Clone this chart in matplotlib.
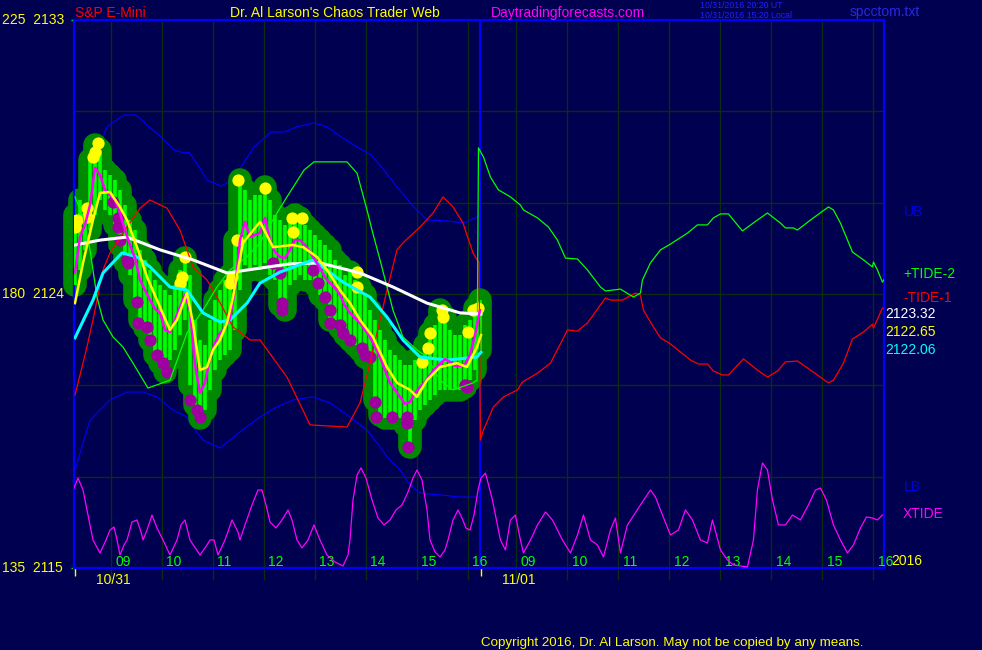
import numpy as np
import matplotlib.pyplot as plt

plt.rcParams['font.family'] = ['Liberation Sans', 'DejaVu Sans']

BG = '#000050'
GRID = '#0c2c10'
BLUE = '#0000ff'
HALO = '#008a00'

# second session is drawn right after the first one
day2_shift = 7.95
open_hour = 8.3

# 10/31 bars (about 6 min apart)
close = [2124.69, 2125.87, 2126.27, 2126.92, 2128.14, 2127.91, 2127.42, 2127.25, 2127.09, 2126.66,
         2126.10, 2125.61, 2125.18, 2124.46, 2124.13, 2123.80, 2123.51, 2123.38, 2122.82, 2122.75,
         2123.15, 2123.57, 2123.97, 2123.47, 2121.67, 2120.75, 2121.08, 2121.90, 2122.39, 2122.72,
         2122.88, 2123.21, 2124.13, 2125.77, 2126.37, 2125.87, 2125.94, 2126.00, 2126.50, 2125.77,
         2125.38, 2125.22, 2125.18, 2125.45, 2125.77, 2125.77, 2125.61, 2125.38, 2125.12, 2124.85,
         2124.56, 2124.36, 2124.20, 2123.97, 2123.61, 2123.38, 2123.21, 2123.05, 2122.82, 2122.59,
         2122.26, 2121.93, 2121.50, 2121.08, 2120.85, 2120.62, 2120.39, 2120.45, 2120.75, 2120.95,
         2121.11, 2121.34, 2121.54, 2121.70, 2121.86, 2121.77, 2121.64, 2121.64, 2121.70, 2122.00,
         2122.65, 2123.47]
high = [2126.59, 2127.09, 2126.92, 2128.40, 2128.89, 2128.73, 2128.07, 2127.91, 2127.74, 2127.42,
        2126.92, 2126.43, 2126.10, 2125.45, 2125.12, 2124.79, 2124.46, 2124.30, 2124.13, 2123.97,
        2124.30, 2124.79, 2125.18, 2124.62, 2123.15, 2122.49, 2122.32, 2123.15, 2123.80, 2124.13,
        2124.46, 2124.62, 2125.77, 2127.74, 2127.42, 2127.09, 2127.25, 2127.25, 2127.51, 2127.09,
        2126.59, 2126.43, 2126.27, 2126.50, 2126.59, 2126.50, 2126.27, 2126.10, 2125.94, 2125.77,
        2125.61, 2125.45, 2125.12, 2124.95, 2124.62, 2124.72, 2124.46, 2124.23, 2123.97, 2123.47,
        2123.15, 2122.82, 2122.49, 2122.16, 2122.00, 2121.83, 2121.67, 2121.67, 2121.83, 2122.00,
        2122.32, 2122.72, 2122.98, 2123.47, 2123.24, 2122.82, 2122.65, 2122.65, 2122.98, 2123.15,
        2123.54, 2123.80]
low = [2124.30, 2124.79, 2125.45, 2126.10, 2126.59, 2127.09, 2126.76, 2126.59, 2126.27, 2125.61,
       2125.05, 2124.62, 2123.80, 2123.15, 2122.88, 2122.49, 2122.00, 2121.73, 2121.44, 2121.83,
       2122.16, 2122.65, 2123.15, 2121.01, 2120.35, 2119.93, 2120.19, 2120.85, 2121.50, 2121.83,
       2122.00, 2122.16, 2122.82, 2124.13, 2124.95, 2124.79, 2124.95, 2124.79, 2125.02, 2124.62,
       2124.46, 2123.64, 2123.47, 2124.30, 2124.46, 2124.62, 2124.46, 2124.46, 2124.30, 2123.97,
       2123.80, 2123.15, 2123.15, 2122.88, 2122.65, 2122.49, 2122.32, 2122.16, 2121.93, 2121.83,
       2120.52, 2120.03, 2119.93, 2119.93, 2119.93, 2119.93, 2119.70, 2118.97, 2119.86, 2120.19,
       2120.35, 2120.52, 2120.68, 2120.85, 2120.85, 2120.85, 2120.85, 2120.85, 2120.95, 2121.17,
       2121.50, 2122.16]
bar_t = np.linspace(8.294, 16.235, len(close))

# yellow = swing highs, purple = swing lows
yel_t = [8.745, 8.686, 8.647, 8.529, 8.529, 8.333, 8.294, 10.451, 10.392, 10.353, 11.490, 11.471, 11.373, 11.333,
         12.020, 12.549, 12.745, 12.569, 13.824, 13.824, 15.098, 15.216, 15.255, 15.490, 15.510, 16.000, 16.098, 16.196]
yel_p = [2128.96, 2128.66, 2128.50, 2126.82, 2126.53, 2126.43, 2126.20, 2125.22, 2124.56, 2124.36, 2127.74, 2125.77,
         2124.56, 2124.36, 2127.48, 2126.50, 2126.50, 2126.04, 2124.72, 2124.23, 2121.77, 2122.23, 2122.72, 2123.47,
         2123.24, 2122.75, 2123.47, 2123.54]
pur_t = [9.039, 9.137, 9.137, 9.176, 9.314, 9.333, 9.510, 9.529, 9.706, 9.765, 9.902, 10.020, 10.098, 10.549, 10.686,
         10.745, 12.176, 12.314, 12.353, 12.353, 12.961, 13.059, 13.196, 13.294, 13.294, 13.490, 13.549, 13.686, 13.922,
         13.980, 14.078, 14.176, 14.196, 14.510, 14.804, 14.804, 14.824, 15.941, 15.980]
pur_p = [2127.02, 2126.50, 2126.20, 2125.77, 2125.12, 2125.02, 2123.74, 2123.05, 2122.92, 2122.49, 2122.00, 2121.73,
         2121.44, 2120.52, 2120.19, 2119.96, 2125.02, 2124.69, 2123.70, 2123.47, 2124.79, 2124.36, 2123.90, 2123.47,
         2123.05, 2122.98, 2122.72, 2122.49, 2122.23, 2122.00, 2121.93, 2120.45, 2119.96, 2119.96, 2119.96, 2119.76,
         2118.97, 2121.01, 2120.95]

# averages
yma_t = [8.294, 8.451, 8.647, 8.784, 8.980, 9.176, 9.314, 9.510, 9.706, 9.961, 10.157, 10.294, 10.490, 10.608, 10.745,
         10.882, 11.000, 11.137, 11.275, 11.392, 11.588, 11.922, 12.176, 12.569, 12.765, 13.039, 13.235, 13.490, 13.686,
         13.882, 14.137, 14.412, 14.608, 14.863, 15.000, 15.196, 15.451, 15.784, 15.980, 16.176, 16.255]
yma_p = [2123.70, 2125.02, 2126.43, 2127.32, 2127.35, 2126.86, 2126.43, 2125.54, 2124.56, 2123.57, 2122.82, 2123.15,
         2124.03, 2123.05, 2121.50, 2121.60, 2122.16, 2122.49, 2123.05, 2123.90, 2125.68, 2126.37, 2125.54, 2125.61,
         2125.54, 2125.22, 2124.79, 2124.13, 2123.70, 2123.15, 2122.59, 2121.60, 2121.08, 2120.85, 2120.62, 2121.17,
         2121.60, 2121.73, 2121.60, 2122.26, 2122.65]
cma_t = [8.294, 8.647, 8.843, 9.216, 9.510, 9.765, 10.157, 10.490, 10.804, 11.137, 11.333, 11.667, 11.922, 12.314,
         12.961, 13.549, 14.078, 14.412, 14.725, 15.059, 15.588, 16.176, 16.255]
cma_p = [2122.56, 2123.80, 2124.69, 2125.35, 2125.22, 2124.89, 2124.23, 2124.13, 2123.38, 2123.08, 2123.15, 2123.70,
         2124.36, 2124.72, 2125.12, 2124.39, 2123.90, 2123.24, 2122.49, 2121.93, 2121.83, 2121.93, 2122.09]
wma_t = [8.294, 8.784, 9.314, 9.961, 10.608, 11.275, 11.922, 12.510, 13.098, 13.882, 14.529, 15.196, 15.843, 16.255]
wma_p = [2125.61, 2125.77, 2125.87, 2125.45, 2125.12, 2124.69, 2124.85, 2124.99, 2125.02, 2124.69, 2124.23, 2123.70,
         2123.38, 2123.34]

# bands
ub_t = [8.314, 8.647, 8.922, 9.255, 9.490, 9.706, 9.980, 10.235, 10.431, 10.529, 10.765, 10.882, 11.157, 11.275,
        11.549, 11.804, 12.137, 12.392, 12.647, 12.980, 13.235, 13.510, 13.824, 14.098, 14.353, 14.608, 14.941,
        15.196, 15.588, 15.922, 16.176, 16.255]
ub_p = [2126.92, 2128.30, 2129.49, 2129.88, 2129.88, 2129.55, 2129.16, 2128.73, 2128.63, 2128.66, 2128.07, 2127.74,
        2127.55, 2127.65, 2128.17, 2128.83, 2129.32, 2129.32, 2129.49, 2129.62, 2129.49, 2129.16, 2128.83, 2128.57,
        2128.07, 2127.51, 2126.86, 2126.43, 2126.40, 2126.33, 2126.53, 2126.66]
lb_t = [8.294, 8.588, 8.980, 9.314, 9.627, 9.902, 10.216, 10.490, 10.608, 10.804, 11.137, 11.529, 11.922, 12.255,
        12.569, 12.961, 13.294, 13.686, 14.020, 14.216, 14.431, 14.667, 14.863, 15.059, 15.451, 15.843, 16.196]
lb_p = [2118.22, 2119.86, 2120.52, 2120.78, 2120.78, 2120.62, 2120.19, 2119.96, 2119.63, 2119.20, 2118.94, 2119.47,
        2119.96, 2120.29, 2120.52, 2120.62, 2120.42, 2119.96, 2119.53, 2119.11, 2118.61, 2118.22, 2117.73, 2117.46,
        2117.40, 2117.33, 2117.33]

# tides, day 1 and forecast day 2 (hours of each day)
tide1_t1 = [8.294, 8.529, 8.647, 8.843, 8.980, 9.314, 9.569, 9.765, 10.098, 10.353, 10.608, 10.882, 11.078, 11.392,
            11.725, 11.922, 12.451, 12.902, 13.627, 13.882, 14.078, 14.412, 14.608, 14.725, 15.059, 15.314, 15.510,
            15.706, 15.902, 16.098, 16.176, 16.216]
tide1_p1 = [2120.68, 2122.26, 2123.15, 2124.79, 2125.35, 2126.20, 2126.82, 2127.09, 2126.82, 2126.10, 2124.89, 2124.46,
            2123.90, 2122.92, 2122.49, 2122.49, 2121.27, 2119.70, 2119.63, 2120.42, 2121.73, 2124.13, 2125.45, 2125.68,
            2126.20, 2126.66, 2127.19, 2126.86, 2126.33, 2125.35, 2125.12, 2125.05]
tide1_t2 = [8.294, 8.353, 8.549, 8.745, 9.020, 9.118, 9.412, 9.667, 9.902, 10.000, 10.196, 10.392, 10.549, 10.745,
            10.843, 11.078, 11.333, 11.431, 11.490, 11.686, 11.824, 12.020, 12.412, 12.569, 12.745, 12.863, 13.039,
            13.157, 13.451, 13.725, 13.922, 14.118, 14.275, 14.510, 14.765, 15.118, 15.216, 15.412, 15.588, 15.804,
            15.980, 16.000, 16.176, 16.216]
tide1_p2 = [2119.20, 2119.53, 2120.29, 2120.62, 2120.85, 2121.11, 2121.40, 2121.73, 2122.49, 2122.82, 2122.78, 2123.05,
            2123.41, 2123.87, 2123.80, 2123.80, 2124.03, 2123.97, 2123.47, 2122.92, 2122.56, 2122.36, 2121.83, 2121.70,
            2121.70, 2121.47, 2121.34, 2121.34, 2121.87, 2121.50, 2121.27, 2121.47, 2121.77, 2121.80, 2121.50, 2121.08,
            2121.17, 2121.73, 2122.52, 2122.75, 2123.01, 2122.88, 2123.54, 2123.54]
tide2_t1 = [8.294, 8.451, 8.588, 8.725, 8.843, 9.039, 9.235, 9.431, 9.725, 10.157, 10.490, 10.804, 11.078, 11.333,
            11.667, 11.922, 12.196, 12.451, 12.784, 12.980, 13.627, 13.824, 14.020, 14.118, 14.275, 14.529, 14.725,
            15.000, 15.196, 15.451, 15.706, 16.098, 16.176]
tide2_p1 = [2127.19, 2126.53, 2125.45, 2123.90, 2123.15, 2122.59, 2122.26, 2121.73, 2120.91, 2121.17, 2122.72, 2123.47,
            2124.23, 2124.79, 2125.22, 2125.68, 2126.50, 2127.19, 2128.07, 2128.34, 2128.34, 2127.97, 2126.76, 2126.10,
            2125.12, 2123.47, 2122.59, 2122.16, 2121.93, 2121.17, 2120.85, 2121.08, 2121.17]
tide2_t2 = [8.255, 8.353, 8.490, 8.647, 8.882, 9.078, 9.137, 9.412, 9.627, 9.804, 9.961, 10.196, 10.392, 10.647,
            10.745, 11.039, 11.294, 11.431, 11.471, 11.627, 11.824, 12.020, 12.353, 12.549, 12.745, 12.863, 13.000,
            13.157, 13.431, 13.725, 13.922, 14.176, 14.275, 14.431, 14.510, 14.765, 15.118, 15.216, 15.353, 15.588,
            15.804, 15.980, 16.000, 16.078, 16.176, 16.216]
tide2_p2 = [2128.80, 2128.50, 2127.84, 2127.42, 2127.19, 2126.92, 2126.76, 2126.50, 2126.20, 2125.77, 2125.18, 2125.15,
            2124.79, 2124.23, 2124.10, 2124.16, 2123.90, 2124.03, 2124.46, 2125.02, 2125.45, 2125.64, 2126.00, 2126.27,
            2126.27, 2126.50, 2126.63, 2126.63, 2126.07, 2126.43, 2126.66, 2126.33, 2126.17, 2126.17, 2126.10, 2126.43,
            2126.86, 2126.76, 2126.33, 2125.38, 2125.12, 2124.89, 2125.05, 2124.79, 2124.39, 2124.49]

# XTIDE on the 135..225 scale
xt_t1 = [8.275, 8.353, 8.451, 8.549, 8.647, 8.784, 8.902, 8.980, 9.059, 9.118, 9.176, 9.255, 9.314, 9.412, 9.510,
         9.588, 9.627, 9.706, 9.804, 9.902, 10.020, 10.157, 10.294, 10.373, 10.451, 10.549, 10.745, 10.882, 10.941,
         11.020, 11.098, 11.235, 11.373, 11.490, 11.529, 11.627, 11.765, 11.882, 11.961, 12.039, 12.118, 12.235,
         12.353, 12.471, 12.549, 12.647, 12.745, 12.863, 12.980, 13.098, 13.235, 13.392, 13.549, 13.647, 13.686,
         13.745, 13.824, 13.902, 14.000, 14.118, 14.235, 14.353, 14.471, 14.588, 14.706, 14.824, 14.922, 15.000,
         15.098, 15.196, 15.255, 15.353, 15.451, 15.549, 15.608, 15.706, 15.804, 15.882, 15.961, 16.039, 16.118,
         16.196, 16.255]
xt_v1 = [148.14, 149.78, 147.81, 143.70, 139.60, 137.46, 139.60, 141.24, 141.74, 139.60, 137.14, 138.78, 139.60,
         142.56, 142.89, 140.91, 139.60, 141.24, 143.70, 141.57, 139.60, 137.14, 139.60, 142.07, 142.89, 139.60,
         137.14, 138.78, 139.60, 139.60, 137.14, 139.60, 142.89, 140.91, 139.60, 142.07, 145.35, 147.81, 147.81,
         145.35, 142.56, 141.57, 142.89, 144.53, 142.89, 139.60, 138.29, 139.60, 142.07, 139.60, 137.14, 135.99,
         135.33, 137.14, 139.60, 146.17, 150.27, 151.43, 149.78, 146.17, 143.21, 142.07, 142.89, 144.53, 145.35,
         147.48, 149.78, 151.10, 149.45, 144.53, 139.60, 137.63, 136.81, 137.96, 139.60, 142.89, 144.53, 143.21,
         141.57, 141.24, 143.70, 147.81, 149.78]
xt_t2 = [8.392, 8.529, 8.686, 8.784, 8.882, 8.980, 9.078, 9.137, 9.275, 9.412, 9.569, 9.706, 9.902, 10.059, 10.196,
         10.314, 10.451, 10.588, 10.706, 10.843, 10.941, 11.039, 11.176, 11.431, 11.627, 11.725, 11.863, 12.020,
         12.176, 12.314, 12.451, 12.608, 12.745, 12.843, 13.000, 13.137, 13.255, 13.529, 13.647, 13.725, 13.824,
         13.922, 14.020, 14.137, 14.275, 14.412, 14.569, 14.725, 14.863, 14.961, 15.078, 15.216, 15.353, 15.490,
         15.608, 15.745, 15.863, 15.980, 16.078, 16.176]
xt_v2 = [150.60, 146.17, 139.60, 137.96, 142.89, 143.70, 139.60, 137.46, 139.60, 142.07, 144.20, 142.89, 139.60,
         137.46, 140.42, 143.70, 139.60, 138.78, 136.81, 141.24, 143.21, 137.46, 142.07, 145.35, 147.81, 146.66,
         143.70, 140.42, 141.24, 144.53, 142.89, 139.60, 139.11, 142.89, 137.96, 136.32, 135.50, 135.17, 139.60,
         147.81, 152.25, 151.10, 146.17, 142.07, 142.07, 143.70, 142.89, 145.35, 147.81, 148.14, 146.17, 142.07,
         139.60, 137.46, 138.78, 141.57, 143.38, 143.21, 142.89, 143.70]

hours = list(range(9, 17))
last_vals = [('2123.32', 'white'), ('2122.65', '#ffff00'), ('2122.06', '#00ffff')]


def join(t1, p1, t2, p2):
    return np.concatenate([t1, np.array(t2) + day2_shift]), np.concatenate([p1, p2])


fig = plt.figure(figsize=(9.82, 6.5), dpi=100, facecolor=BG)
ax = fig.add_axes([74 / 982, 82 / 650, 810 / 982, 548 / 650])
ax.set_facecolor(BG)
x0 = 8.2745
x1 = 24.157
ax.set_xlim(x0, x1)
ax.set_ylim(2115, 2133)

grid_x = hours + [h + day2_shift for h in hours]
ax.vlines(grid_x, -0.022, 1, transform=ax.get_xaxis_transform(), colors=GRID, lw=1, clip_on=False, zorder=0)
ax.hlines([2118, 2121, 2124, 2127, 2130], x0, x1, colors=GRID, lw=1, zorder=0)

for s in ax.spines.values():
    s.set_color(BLUE)
    s.set_linewidth(1.6)
ax.axvline(open_hour + day2_shift - 0.005, color=BLUE, lw=1.5, zorder=1)

ax.set_yticks([2115, 2124, 2133])
ax.tick_params(axis='y', colors='#00ff00', length=2.5, width=1, labelleft=False)
ax.set_xticks([open_hour, open_hour + day2_shift])
ax.tick_params(axis='x', colors='#ffff00', length=6, width=1, labelbottom=False)

# bands
ax.plot(ub_t, ub_p, color=BLUE, lw=0.8, zorder=1.5)
ax.plot(lb_t, lb_p, color=BLUE, lw=0.8, zorder=1.5)

# bars with glow
for t, h, l in zip(bar_t, high, low):
    ax.plot([t, t], [l, h], color=HALO, lw=17, solid_capstyle='round', zorder=2, clip_on=False)
ax.vlines(bar_t, low, high, colors='#00ff00', lw=2.6, zorder=3)

ax.plot(yel_t, yel_p, 'o', color='#ffff00', ms=8.8, mec='none', zorder=3.5)
ax.plot(pur_t, pur_p, 'o', color='#a000a0', ms=8.8, mec='none', zorder=3.5)

tx, tp = join(tide1_t1, tide1_p1, tide1_t2, tide1_p2)
ax.plot(tx, tp, color='#ff0000', lw=0.9, zorder=3.8)
tx, tp = join(tide2_t1, tide2_p1, tide2_t2, tide2_p2)
ax.plot(tx, tp, color='#00ff00', lw=0.9, zorder=3.8)

ax.plot(wma_t, wma_p, color='white', lw=2.2, zorder=4)
ax.plot(cma_t, cma_p, color='#00ffff', lw=2.2, zorder=4.1)
ax.plot(bar_t, close, color='#ff00ff', lw=1.8, zorder=5)
ax.plot(yma_t, yma_p, color='#ffff00', lw=1.8, zorder=5.1)

ax2 = ax.twinx()
ax2.set_ylim(135, 225)
ax2.axis('off')
xx, xv = join(xt_t1, xt_v1, xt_t2, xt_v2)
ax2.plot(xx, xv, color='#ff00ff', lw=0.9)

# hour labels
for h in hours:
    for d in [0, day2_shift]:
        ax.text(h + d + 0.08, 2115.08, '%02d' % h, color='#00ff00', fontsize=10, ha='left', va='baseline', zorder=6)

ylab = ax.get_yaxis_transform()
for a, b in [('225', 2133), ('180', 2124), ('135', 2115)]:
    ax.text(-0.0889, b, a + '  ' + str(b), transform=ylab, color='#ffff00', fontsize=10, ha='left', va='center')

ax.text(open_hour + 0.41, -0.021, '10/31', transform=ax.get_xaxis_transform(), color='#ffff00', fontsize=10,
        ha='left', va='center')
ax.text(open_hour + day2_shift + 0.41, -0.021, '11/01', transform=ax.get_xaxis_transform(), color='#ffff00',
        fontsize=10, ha='left', va='center')


def ftext(x, y, s, c, size=10, **kw):
    fig.text(x / 982, 1 - y / 650, s, color=c, fontsize=size, ha='left', va='center', **kw)


ftext(75, 13, 'S&P E-Mini', '#ff0000')
ftext(230, 13, "Dr. Al Larson's Chaos Trader Web", '#ffff00')
ftext(491, 13, 'Daytradingforecasts.com', '#ff00ff')
ftext(700, 6, '10/31/2016 20:20 UT', '#2020ff', 6.3)
ftext(700, 15.5, '10/31/2016 15:20 Local', '#2020ff', 6.3)
ftext(850, 12, 'spcctom.txt', '#2828e0')

ftext(904, 212, 'UB', '#0000dd')
ftext(903, 274, '+TIDE-2', '#00ff00')
ftext(903, 298, '-TIDE-1', '#ff0000')
for i, (s, c) in enumerate(last_vals):
    ftext(885, 314 + i * 18, s, c)
ftext(904, 487, 'LB', '#0000dd')
ftext(903, 514, 'XTIDE', '#ff00ff')
ftext(891, 561, '2016', '#ffff00')

ftext(481, 643, 'Copyright 2016, Dr. Al Larson. May not be copied by any means.', '#ffff00', 9.6)

fig.savefig('out.png', dpi=100, facecolor=BG)
